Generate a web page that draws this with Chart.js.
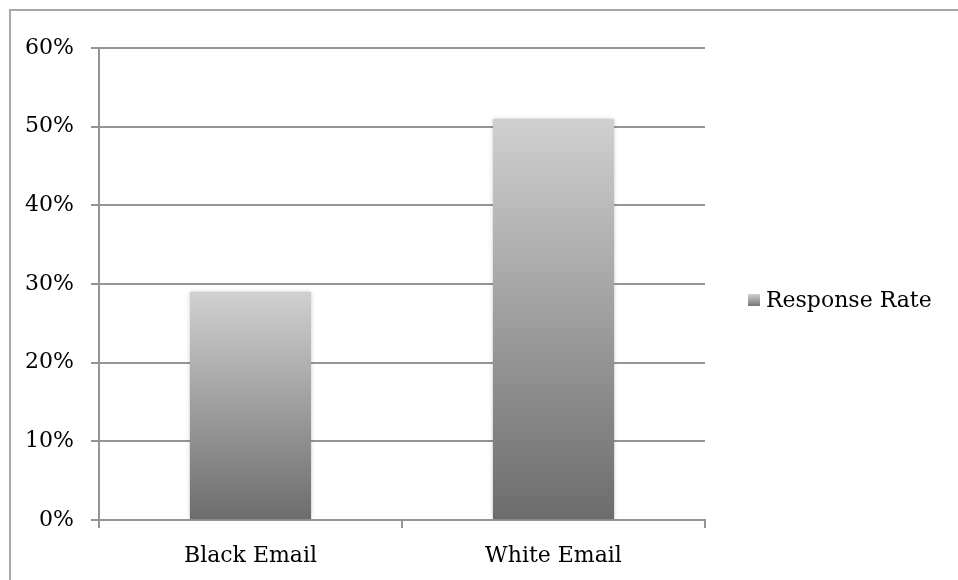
<!DOCTYPE html>
<html>
<head>
<meta charset="utf-8">
<script src="https://cdn.jsdelivr.net/npm/chart.js@4/dist/chart.umd.min.js"></script>
<style>
  body { margin: 0; background: #fff; }
  #wrap { position: relative; width: 958px; height: 580px; overflow: hidden; }
  #frame { position: absolute; left: 9px; top: 9px; width: 1000px; height: 700px; border-top: 2px solid #a8a8a8; border-left: 2px solid #a8a8a8; }
  #chart { position: absolute; left: 0; top: 0; }
  #legend { position: absolute; left: 748px; top: 287px; font-family: "DejaVu Serif", serif; font-size: 22px; color: #000; display: flex; align-items: center; }
  #legend .box { width: 12px; height: 12px; margin-right: 6px; background: linear-gradient(#d0d0d0, #777); }
</style>
</head>
<body>
<div id="wrap">
  <div id="frame"></div>
  <canvas id="chart" width="958" height="580"></canvas>
  <div id="legend"><span class="box"></span><span>Response Rate</span></div>
</div>
<script>
// data
const categories = ['Black Email', 'White Email'];
const responseRate = [29, 51];
const seriesName = 'Response Rate';

const FONT = { family: '"DejaVu Serif", serif', size: 22 };
const GRID = '#949494';

// each bar gets its own light-to-dark gradient
const barGradient = (context) => {
    const chart = context.chart;
    const y = chart.scales.y;
    if (!y || typeof context.raw !== 'number') return '#a0a0a0';
    const top = y.getPixelForValue(context.raw);
    const bottom = y.getPixelForValue(0);
    if (!isFinite(top) || !isFinite(bottom) || top === bottom) return '#a0a0a0';
    const g = chart.ctx.createLinearGradient(0, top, 0, bottom);
    g.addColorStop(0, '#d0d0d0');
    g.addColorStop(1, '#6c6c6c');
    return g;
};

const barShadow = {
    id: 'barShadow',
    beforeDatasetDraw(chart) {
        chart.ctx.save();
        chart.ctx.shadowColor = 'rgba(0,0,0,0.22)';
        chart.ctx.shadowBlur = 5;
    },
    afterDatasetDraw(chart) {
        chart.ctx.restore();
    }
};

new Chart(document.getElementById('chart'), {
    type: 'bar',
    data: {
        labels: categories,
        datasets: [{
            label: seriesName,
            data: responseRate,
            backgroundColor: barGradient,
            borderWidth: 0,
            barPercentage: 0.4,
            categoryPercentage: 1
        }]
    },
    options: {
        responsive: false,
        animation: false,
        layout: { padding: { top: 48, right: 253, bottom: 0, left: 0 } },
        plugins: {
            legend: { display: false },
            tooltip: { enabled: false }
        },
        scales: {
            x: {
                grid: { drawOnChartArea: false, drawTicks: true, tickLength: 8, color: GRID, lineWidth: 2, offset: true },
                border: { color: GRID, width: 2 },
                ticks: { color: '#000', font: FONT, padding: 15 },
                afterFit: (s) => { s.height = 60; }
            },
            y: {
                min: 0,
                max: 60,
                ticks: { stepSize: 10, color: '#000', font: FONT, padding: 17, callback: (v) => v + '%' },
                grid: { color: GRID, lineWidth: 2, tickLength: 8 },
                border: { color: GRID, width: 2 },
                afterFit: (s) => { s.width = 99; }
            }
        }
    },
    plugins: [barShadow]
});
</script>
</body>
</html>
